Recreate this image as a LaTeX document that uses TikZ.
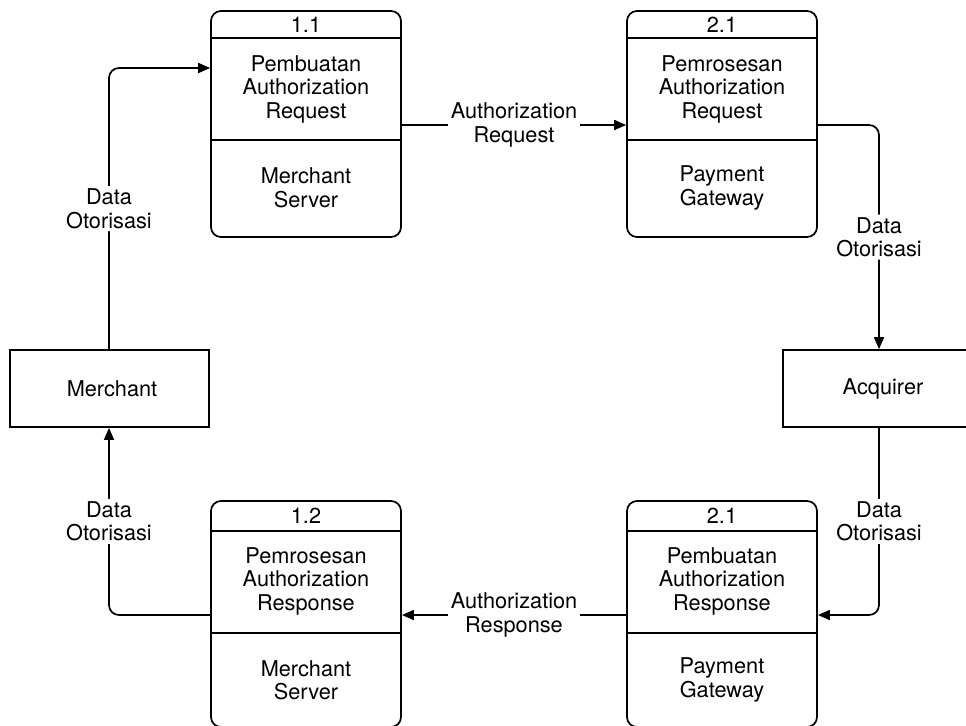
\documentclass[tikz,border=0pt]{standalone}
\usepackage{fontspec}
\setmainfont{TeX Gyre Heros}
\usetikzlibrary{arrows.meta}
\tikzset{
  proc/.style={draw, rounded corners=7.5pt, minimum width=142.5pt, minimum height=169.5pt, inner sep=0pt},
  ent/.style={draw, minimum height=57.75pt, inner sep=0pt},
  txt/.style={align=center, inner sep=1pt, font=\fontsize{16.3}{17.6}\selectfont},
  lbl/.style={txt, fill=white, inner sep=2pt},
  flow/.style={-{Triangle[length=9pt,width=7.5pt]}, rounded corners=7.5pt},
}
\begin{document}
\begin{tikzpicture}[x=0.75pt,y=-0.75pt,line width=1.3pt]
\useasboundingbox[fill=white] (0,0) rectangle (966,725);

% process boxes
\node[proc] (p11) at (306,124) {};
\draw (p11.west |- 0,38) -- (p11.east |- 0,38);
\draw (p11.west |- 0,140) -- (p11.east |- 0,140);
\node[txt] (n11) at (306,25) {1.1};
\node[txt] (t11) at (306,89) {Pembuatan\\Authorization\\Request};
\node[txt] (s11) at (306,188) {Merchant\\Server};

\node[proc] (p21) at (722,124) {};
\draw (p21.west |- 0,38) -- (p21.east |- 0,38);
\draw (p21.west |- 0,140) -- (p21.east |- 0,140);
\node[txt] (n21) at (722,25) {2.1};
\node[txt] (t21) at (722,89) {Pemrosesan\\Authorization\\Request};
\node[txt] (s21) at (722,188) {Payment\\Gateway};

\node[proc] (p12) at (306,614) {};
\draw (p12.west |- 0,531) -- (p12.east |- 0,531);
\draw (p12.west |- 0,633) -- (p12.east |- 0,633);
\node[txt] (n12) at (306,516) {1.2};
\node[txt] (t12) at (306,581) {Pemrosesan\\Authorization\\Response};
\node[txt] (s12) at (306,680) {Merchant\\Server};

\node[proc] (p22) at (722,614) {};
\draw (p22.west |- 0,531) -- (p22.east |- 0,531);
\draw (p22.west |- 0,633) -- (p22.east |- 0,633);
\node[txt] (n22) at (722,516) {2.1};
\node[txt] (t22) at (722,581) {Pembuatan\\Authorization\\Response};
\node[txt] (s22) at (722,680) {Payment\\Gateway};

% external entities
\node[ent, minimum width=149.25pt] (mer) at (109.5,388.5) {};
\node[txt] (mert) at (112,388.5) {Merchant};
\node[ent, minimum width=150pt] (acq) at (883,388.5) {};
\node[txt] (acqt) at (883,388.5) {Acquirer};

% flows
\draw[flow] (p11.east |- 0,125) -- node[lbl]{Authorization\\Request} (p21.west |- 0,125);
\draw[flow] (p21.east |- 0,125) -- (879,125) -- node[lbl]{Data\\Otorisasi} (acq.north -| 879,0);
\draw[flow] (acq.south -| 879,0) -- node[lbl]{Data\\Otorisasi} (879,615) -- (p22.east |- 0,615);
\draw[flow] (p22.west |- 0,615) -- node[lbl]{Authorization\\Response} (p12.east |- 0,615);
\draw[flow] (p12.west |- 0,615) -- (109,615) -- node[lbl]{Data\\Otorisasi} (mer.south -| 109,0);
\draw[flow] (mer.north -| 109,0) -- node[lbl]{Data\\Otorisasi} (109,68) -- (p11.west |- 0,68);
\end{tikzpicture}
\end{document}
